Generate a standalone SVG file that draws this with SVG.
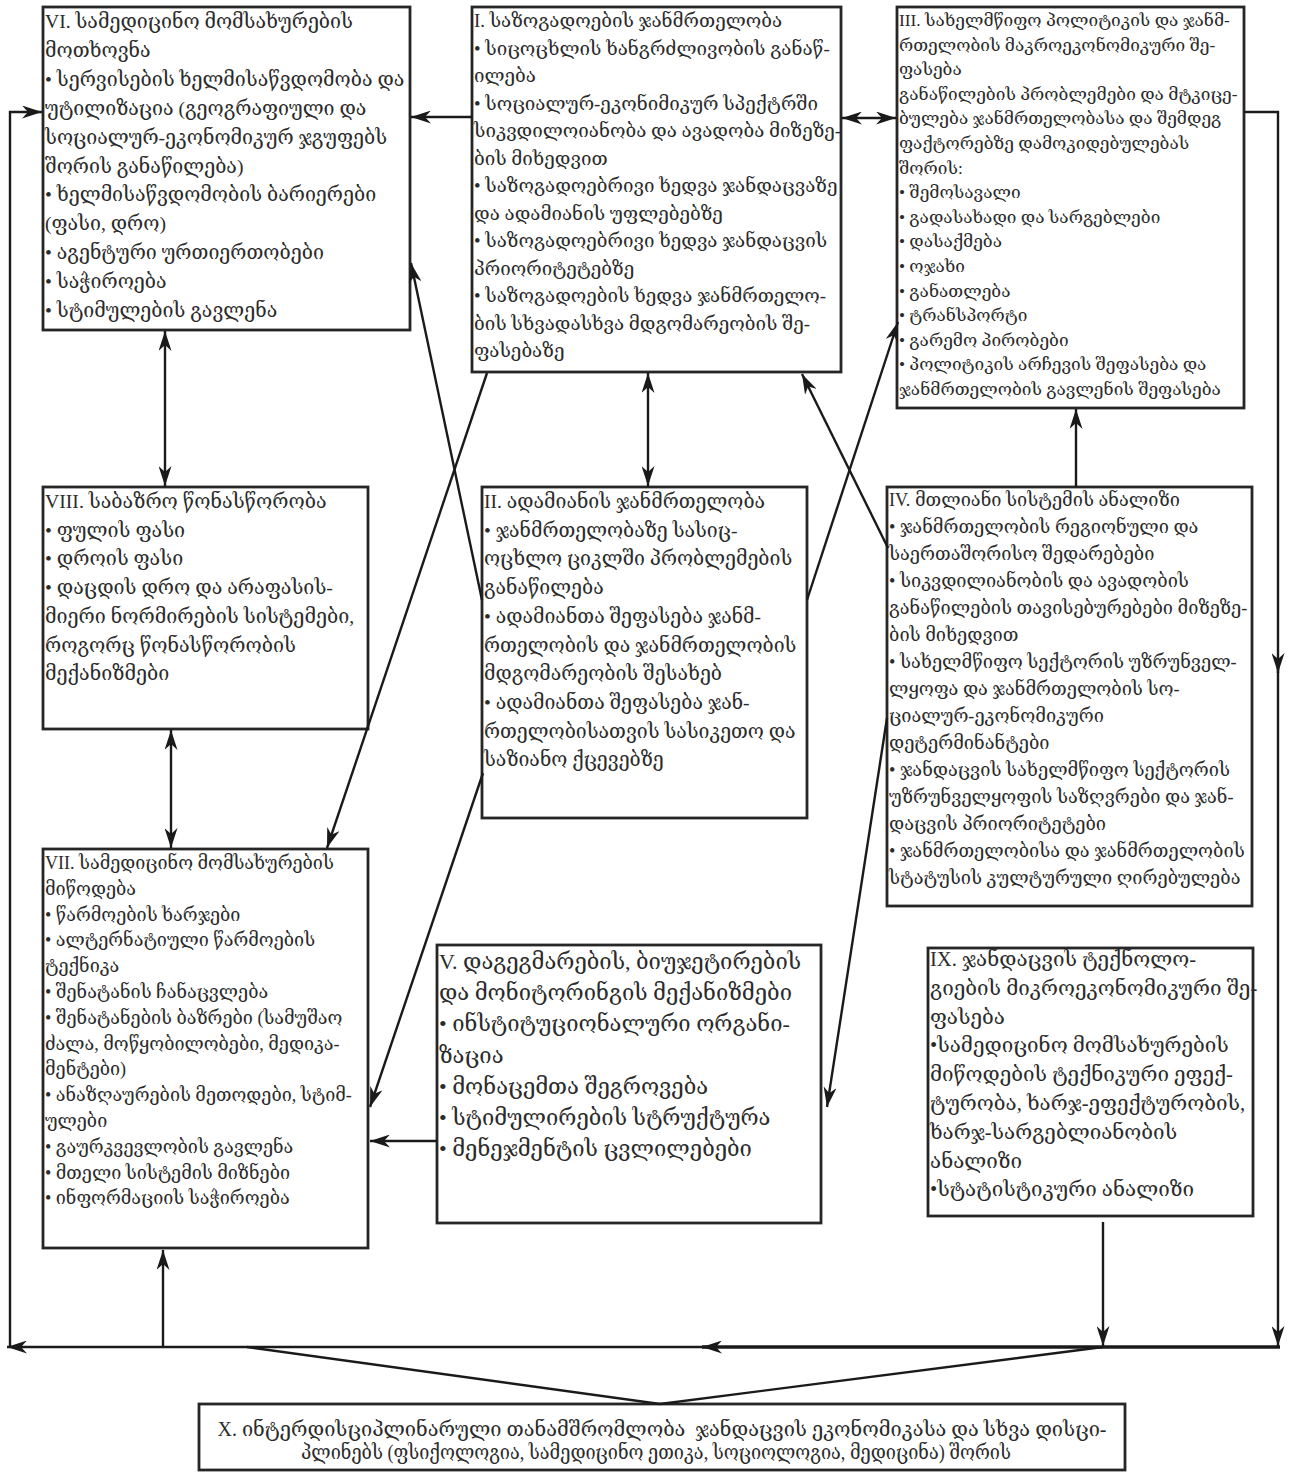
<svg xmlns="http://www.w3.org/2000/svg" width="1293" height="1480" viewBox="0 0 1293 1480">
<defs>
<style>
.box{fill:#fff;stroke:#262626;stroke-width:2.8}
.t{font-family:"Liberation Serif","DejaVu Serif",serif;fill:#2b2b2b;font-size:20px}
.c{fill:none;stroke:#1a1a1a;stroke-width:2.4}
.thick{stroke-width:3.4}
</style>
<marker id="ah" viewBox="0 0 20 13" refX="20" refY="6.5" markerWidth="20" markerHeight="13" markerUnits="userSpaceOnUse" orient="auto-start-reverse">
<path d="M0,0 L20,6.5 L0,13 L6,6.5 z" fill="#1a1a1a"/>
</marker>
</defs>
<rect width="1293" height="1480" fill="#fff"/>

<g id="node-VI">
<rect class="box" x="43" y="7" width="367" height="323"/>
<text class="t" x="45" y="28" style="font-size:19.6px"><tspan x="45">VI. სამედიცინო მომსახურების</tspan><tspan x="45" dy="28.9">მოთხოვნა</tspan><tspan x="45" dy="28.9">• სერვისების ხელმისაწვდომობა და</tspan><tspan x="45" dy="28.9">უტილიზაცია (გეოგრაფიული და</tspan><tspan x="45" dy="28.9">სოციალურ-ეკონომიკურ ჯგუფებს</tspan><tspan x="45" dy="28.9">შორის განაწილება)</tspan><tspan x="45" dy="28.9">• ხელმისაწვდომობის ბარიერები</tspan><tspan x="45" dy="28.9">(ფასი, დრო)</tspan><tspan x="45" dy="28.9">• აგენტური ურთიერთობები</tspan><tspan x="45" dy="28.9">• საჭიროება</tspan><tspan x="45" dy="28.9">• სტიმულების გავლენა</tspan></text>
</g>

<g id="node-I">
<rect class="box" x="472" y="7" width="369" height="365"/>
<text class="t" x="474" y="27" style="font-size:18.8px"><tspan x="474">I. საზოგადოების ჯანმრთელობა</tspan><tspan x="474" dy="27.5">• სიცოცხლის ხანგრძლივობის განაწ-</tspan><tspan x="474" dy="27.5">ილება</tspan><tspan x="474" dy="27.5">• სოციალურ-ეკონიმიკურ სპექტრში</tspan><tspan x="474" dy="27.5">სიკვდილოიანობა და ავადობა მიზეზე-</tspan><tspan x="474" dy="27.5">ბის მიხედვით</tspan><tspan x="474" dy="27.5">• საზოგადოებრივი ხედვა ჯანდაცვაზე</tspan><tspan x="474" dy="27.5">და ადამიანის უფლებებზე</tspan><tspan x="474" dy="27.5">• საზოგადოებრივი ხედვა ჯანდაცვის</tspan><tspan x="474" dy="27.5">პრიორიტეტებზე</tspan><tspan x="474" dy="27.5">• საზოგადოების ხედვა ჯანმრთელო-</tspan><tspan x="474" dy="27.5">ბის სხვადასხვა მდგომარეობის შე-</tspan><tspan x="474" dy="27.5">ფასებაზე</tspan></text>
</g>

<g id="node-III">
<rect class="box" x="897" y="7" width="347" height="401"/>
<text class="t" x="899" y="26" style="font-size:17.3px"><tspan x="899">III. სახელმწიფო პოლიტიკის და ჯანმ-</tspan><tspan x="899" dy="24.6">რთელობის მაკროეკონომიკური შე-</tspan><tspan x="899" dy="24.6">ფასება</tspan><tspan x="899" dy="24.6">განაწილების პრობლემები და მტკიცე-</tspan><tspan x="899" dy="24.6">ბულება ჯანმრთელობასა და შემდეგ</tspan><tspan x="899" dy="24.6">ფაქტორებზე დამოკიდებულებას</tspan><tspan x="899" dy="24.6">შორის:</tspan><tspan x="899" dy="24.6">• შემოსავალი</tspan><tspan x="899" dy="24.6">• გადასახადი და სარგებლები</tspan><tspan x="899" dy="24.6">• დასაქმება</tspan><tspan x="899" dy="24.6">• ოჯახი</tspan><tspan x="899" dy="24.6">• განათლება</tspan><tspan x="899" dy="24.6">• ტრანსპორტი</tspan><tspan x="899" dy="24.6">• გარემო პირობები</tspan><tspan x="899" dy="24.6">• პოლიტიკის არჩევის შეფასება და</tspan><tspan x="899" dy="24.6">ჯანმრთელობის გავლენის შეფასება</tspan></text>
</g>

<g id="node-VIII">
<rect class="box" x="43" y="487" width="325" height="242"/>
<text class="t" x="45" y="508" style="font-size:19.7px"><tspan x="45">VIII. საბაზრო წონასწორობა</tspan><tspan x="45" dy="28.7">• ფულის ფასი</tspan><tspan x="45" dy="28.7">• დროის ფასი</tspan><tspan x="45" dy="28.7">• დაცდის დრო და არაფასის-</tspan><tspan x="45" dy="28.7">მიერი ნორმირების სისტემები,</tspan><tspan x="45" dy="28.7">როგორც წონასწორობის</tspan><tspan x="45" dy="28.7">მექანიზმები</tspan></text>
</g>

<g id="node-II">
<rect class="box" x="482" y="487" width="325" height="331"/>
<text class="t" x="484" y="508" style="font-size:19.5px"><tspan x="484">II. ადამიანის ჯანმრთელობა</tspan><tspan x="484" dy="28.7">• ჯანმრთელობაზე სასიც-</tspan><tspan x="484" dy="28.7">ოცხლო ციკლში პრობლემების</tspan><tspan x="484" dy="28.7">განაწილება</tspan><tspan x="484" dy="28.7">• ადამიანთა შეფასება ჯანმ-</tspan><tspan x="484" dy="28.7">რთელობის და ჯანმრთელობის</tspan><tspan x="484" dy="28.7">მდგომარეობის შესახებ</tspan><tspan x="484" dy="28.7">• ადამიანთა შეფასება ჯან-</tspan><tspan x="484" dy="28.7">რთელობისათვის სასიკეთო და</tspan><tspan x="484" dy="28.7">საზიანო ქცევებზე</tspan></text>
</g>

<g id="node-IV">
<rect class="box" x="887" y="487" width="365" height="419"/>
<text class="t" x="889" y="506" style="font-size:18.2px"><tspan x="889">IV. მთლიანი სისტემის ანალიზი</tspan><tspan x="889" dy="27">• ჯანმრთელობის რეგიონული და</tspan><tspan x="889" dy="27">საერთაშორისო შედარებები</tspan><tspan x="889" dy="27">• სიკვდილიანობის და ავადობის</tspan><tspan x="889" dy="27">განაწილების თავისებურებები მიზეზე-</tspan><tspan x="889" dy="27">ბის მიხედვით</tspan><tspan x="889" dy="27">• სახელმწიფო სექტორის უზრუნველ-</tspan><tspan x="889" dy="27">ლყოფა და ჯანმრთელობის სო-</tspan><tspan x="889" dy="27">ციალურ-ეკონომიკური</tspan><tspan x="889" dy="27">დეტერმინანტები</tspan><tspan x="889" dy="27">• ჯანდაცვის სახელმწიფო სექტორის</tspan><tspan x="889" dy="27">უზრუნველყოფის საზღვრები და ჯან-</tspan><tspan x="889" dy="27">დაცვის პრიორიტეტები</tspan><tspan x="889" dy="27">• ჯანმრთელობისა და ჯანმრთელობის</tspan><tspan x="889" dy="27">სტატუსის კულტურული ღირებულება</tspan></text>
</g>

<g id="node-VII">
<rect class="box" x="43" y="849" width="325" height="399"/>
<text class="t" x="45" y="869" style="font-size:18px"><tspan x="45">VII. სამედიცინო მომსახურების</tspan><tspan x="45" dy="25.8">მიწოდება</tspan><tspan x="45" dy="25.8">• წარმოების ხარჯები</tspan><tspan x="45" dy="25.8">• ალტერნატიული წარმოების</tspan><tspan x="45" dy="25.8">ტექნიკა</tspan><tspan x="45" dy="25.8">• შენატანის ჩანაცვლება</tspan><tspan x="45" dy="25.8">• შენატანების ბაზრები (სამუშაო</tspan><tspan x="45" dy="25.8">ძალა, მოწყობილობები, მედიკა-</tspan><tspan x="45" dy="25.8">მენტები)</tspan><tspan x="45" dy="25.8">• ანაზღაურების მეთოდები, სტიმ-</tspan><tspan x="45" dy="25.8">ულები</tspan><tspan x="45" dy="25.8">• გაურკვევლობის გავლენა</tspan><tspan x="45" dy="25.8">• მთელი სისტემის მიზნები</tspan><tspan x="45" dy="25.8">• ინფორმაციის საჭიროება</tspan></text>
</g>

<g id="node-V">
<rect class="box" x="437" y="945" width="384" height="278"/>
<text class="t" x="439" y="969" style="font-size:22px"><tspan x="439">V. დაგეგმარების, ბიუჯეტირების</tspan><tspan x="439" dy="31.2">და მონიტორინგის მექანიზმები</tspan><tspan x="439" dy="31.2">• ინსტიტუციონალური ორგანი-</tspan><tspan x="439" dy="31.2">ზაცია</tspan><tspan x="439" dy="31.2">• მონაცემთა შეგროვება</tspan><tspan x="439" dy="31.2">• სტიმულირების სტრუქტურა</tspan><tspan x="439" dy="31.2">• მენეჯმენტის ცვლილებები</tspan></text>
</g>

<g id="node-IX">
<rect class="box" x="928" y="948" width="325" height="268"/>
<text class="t" x="930" y="966" style="font-size:20.6px"><tspan x="930">IX. ჯანდაცვის ტექნოლო-</tspan><tspan x="930" dy="28.8">გიების მიკროეკონომიკური შე-</tspan><tspan x="930" dy="28.8">ფასება</tspan><tspan x="930" dy="28.8">•სამედიცინო მომსახურების</tspan><tspan x="930" dy="28.8">მიწოდების ტექნიკური ეფექ-</tspan><tspan x="930" dy="28.8">ტურობა, ხარჯ-ეფექტურობის,</tspan><tspan x="930" dy="28.8">ხარჯ-სარგებლიანობის</tspan><tspan x="930" dy="28.8">ანალიზი</tspan><tspan x="930" dy="28.8">•სტატისტიკური ანალიზი</tspan></text>
</g>

<g id="node-X">
<rect class="box" x="199" y="1404" width="926" height="66"/>
<text class="t" xml:space="preserve" x="662" y="1436" text-anchor="middle" style="font-size:21px"><tspan x="662" textLength="889" lengthAdjust="spacingAndGlyphs">X. ინტერდისციპლინარული თანამშრომლობა  ჯანდაცვის ეკონომიკასა და სხვა დისცი-</tspan><tspan x="656" y="1459" textLength="710" lengthAdjust="spacingAndGlyphs">პლინებს (ფსიქოლოგია, სამედიცინო ეთიკა, სოციოლოგია, მედიცინა) შორის</tspan></text>
</g>

<g id="connectors">
<line class="c" x1="472" y1="117" x2="411" y2="117" marker-end="url(#ah)"/>
<line class="c" x1="842" y1="118" x2="896" y2="118" marker-start="url(#ah)" marker-end="url(#ah)"/>
<line class="c" x1="165" y1="331" x2="165" y2="486" marker-start="url(#ah)" marker-end="url(#ah)"/>
<line class="c" x1="171" y1="730" x2="171" y2="848" marker-start="url(#ah)" marker-end="url(#ah)"/>
<line class="c" x1="648" y1="373" x2="648" y2="486" marker-start="url(#ah)" marker-end="url(#ah)"/>
<line class="c" x1="482" y1="600" x2="411" y2="263" marker-end="url(#ah)"/>
<line class="c" x1="487" y1="373" x2="327" y2="848" marker-end="url(#ah)"/>
<line class="c" x1="483" y1="773" x2="370" y2="1107" marker-end="url(#ah)"/>
<line class="c" x1="807" y1="600" x2="898" y2="322" marker-end="url(#ah)"/>
<line class="c" x1="888" y1="548" x2="802" y2="374" marker-end="url(#ah)"/>
<line class="c" x1="887" y1="718" x2="827" y2="1107" marker-end="url(#ah)"/>
<line class="c" x1="437" y1="1141" x2="370" y2="1141" marker-end="url(#ah)"/>
<line class="c" x1="1076" y1="487" x2="1076" y2="409" marker-end="url(#ah)"/>
<path class="c" d="M1245,112 H1278 V673" marker-end="url(#ah)"/>
<path class="c" d="M1278,660 V1346" marker-end="url(#ah)"/>
<path class="c thick" d="M1280,1347 H702" marker-end="url(#ah)"/>
<path class="c" d="M710,1347 H7" marker-end="url(#ah)"/>
<path class="c" d="M10,1347 V112 H42" marker-end="url(#ah)"/>
<path class="c" d="M163,1347 V1250" marker-end="url(#ah)"/>
<path class="c" d="M1103,1222 V1346" marker-end="url(#ah)"/>
<path class="c" d="M247,1347 L660,1404 L1103,1347"/>
</g>
</svg>
